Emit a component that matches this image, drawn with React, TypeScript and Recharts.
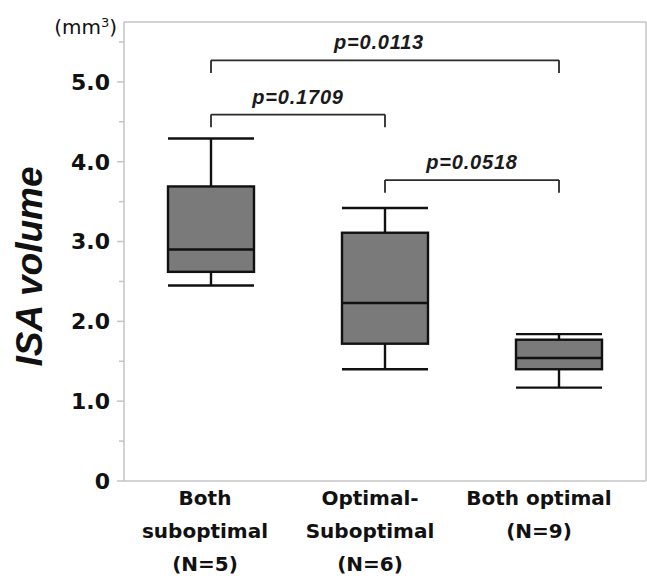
import React from 'react';
import { ComposedChart, Bar, XAxis, YAxis, ReferenceLine } from 'recharts';

// ---- data ----
const categories = ['Both suboptimal', 'Optimal-Suboptimal', 'Both optimal'];
const categoryLines = [
  ['Both', 'suboptimal', '(N=5)'],
  ['Optimal-', 'Suboptimal', '(N=6)'],
  ['Both optimal', '(N=9)'],
];
const minValues = [2.45, 1.40, 1.17];
const q1Values = [2.62, 1.72, 1.40];
const medianValues = [2.90, 2.23, 1.54];
const q3Values = [3.69, 3.11, 1.77];
const maxValues = [4.29, 3.42, 1.84];

const yTicks = [0, 0.5, 1, 1.5, 2, 2.5, 3, 3.5, 4, 4.5, 5, 5.5];
const yMax = 5.75;

const comparisons = [
  { from: 0, to: 2, top: 5.27, bottom: 5.11, label: 'p=0.0113' },
  { from: 0, to: 1, top: 4.59, bottom: 4.43, label: 'p=0.1709' },
  { from: 1, to: 2, top: 3.77, bottom: 3.61, label: 'p=0.0518' },
];

const data = categories.map((name, i) => ({
  name,
  range: [minValues[i], maxValues[i]],
  min: minValues[i],
  q1: q1Values[i],
  median: medianValues[i],
  q3: q3Values[i],
  max: maxValues[i],
}));

// ---- styles ----
const FRAME = '#c4c4c4';
const INK = '#111111';
const BRACKET = '#2a2a2a';
const labelShift = [-6, -15, -20];
const pLabelShift = [-6, 0, 0];

const BoxShape = (props: any) => {
  const { x, y, width, height, payload } = props;
  if (!payload) return null;
  const { min, q1, median, q3, max } = payload;
  const top = Math.min(y, y + height);
  const h = Math.abs(height);
  const k = h / (max - min);
  const py = (v: number) => top + (max - v) * k;
  const cx = x + width / 2;
  const sw = 2.4;
  return (
    <g>
      <line x1={cx} x2={cx} y1={py(max)} y2={py(q3)} stroke={INK} strokeWidth={sw} />
      <line x1={cx} x2={cx} y1={py(q1)} y2={py(min)} stroke={INK} strokeWidth={sw} />
      <line x1={x} x2={x + width} y1={py(max)} y2={py(max)} stroke={INK} strokeWidth={sw} />
      <line x1={x} x2={x + width} y1={py(min)} y2={py(min)} stroke={INK} strokeWidth={sw} />
      <rect x={x} y={py(q3)} width={width} height={py(q1) - py(q3)} fill="#7a7a7a" stroke={INK} strokeWidth={sw} />
      <line x1={x} x2={x + width} y1={py(median)} y2={py(median)} stroke={INK} strokeWidth={sw} />
    </g>
  );
};

const YTick = (props: any) => {
  const { x, y, payload } = props;
  const v = payload.value;
  const major = Math.abs(v - Math.round(v)) < 1e-9;
  const label = major ? (v === 0 ? '0' : v.toFixed(1)) : '';
  return (
    <g>
      <line x1={x - (major ? 7 : 5)} x2={x} y1={y} y2={y} stroke={FRAME} strokeWidth={1.5} />
      {label && (
        <text
          x={x - 14}
          y={y}
          dy="0.36em"
          textAnchor="end"
          fontFamily="DejaVu Sans"
          fontWeight="bold"
          fontSize={22}
          fill={INK}
        >
          {label}
        </text>
      )}
    </g>
  );
};

const XTick = (props: any) => {
  const { x, y, payload } = props;
  const idx = categories.indexOf(payload.value);
  const lines = categoryLines[idx] || [payload.value];
  return (
    <g>
      {lines.map((t, i) => (
        <text
          key={i}
          x={x + (labelShift[idx] || 0)}
          y={y + 24 + i * 33}
          textAnchor="middle"
          fontFamily="DejaVu Sans"
          fontWeight="bold"
          fontSize={20}
          fill={INK}
        >
          {t}
        </text>
      ))}
    </g>
  );
};

const YLabel = (props: any) => {
  const vb = props.viewBox || { x: 0, y: 22, width: 124, height: 459 };
  const cx = vb.x + 42;
  const cy = vb.y + vb.height / 2 + 15;
  return (
    <g>
      <text
        x={cx}
        y={cy}
        transform={`rotate(-90, ${cx}, ${cy})`}
        textAnchor="middle"
        fontFamily="Liberation Sans"
        fontWeight="bold"
        fontStyle="italic"
        fontSize={37}
        fill={INK}
      >
        ISA volume
      </text>
      <text
        x={vb.x + vb.width - 7}
        y={vb.y + 5}
        dy="0.35em"
        textAnchor="end"
        fontFamily="DejaVu Sans"
        fontSize={20}
        fill={INK}
      >
        (mm<tspan dy="-7" fontSize={13}>3</tspan>
        <tspan dy="7">)</tspan>
      </text>
    </g>
  );
};

const makePLabel = (text: string, dx: number) => (props: any) => {
  const vb = props.viewBox;
  if (!vb) return null;
  const cx = vb.x + vb.width / 2 + dx;
  const y = Math.min(vb.y, vb.y + (vb.height || 0)) - 11;
  return (
    <text
      x={cx}
      y={y}
      textAnchor="middle"
      fontFamily="Liberation Sans"
      fontWeight="bold"
      fontStyle="italic"
      fontSize={20}
      letterSpacing={0.8}
      fill="#1a1a1a"
    >
      {text}
    </text>
  );
};

export default function App() {
  return (
    <div style={{ position: 'absolute', left: 0, top: 0, background: '#fff' }}>
      <ComposedChart
        width={647}
        height={581}
        data={data}
        margin={{ top: 22, right: 1, bottom: 0, left: 0 }}
      >
        <XAxis
          dataKey="name"
          height={100}
          tickLine={false}
          tickSize={0}
          tickMargin={0}
          axisLine={{ stroke: FRAME, strokeWidth: 1.5 }}
          tick={<XTick />}
          interval={0}
        />
        <YAxis
          type="number"
          domain={[0, yMax]}
          ticks={yTicks}
          interval={0}
          width={124}
          tickLine={false}
          tickSize={0}
          tickMargin={0}
          axisLine={{ stroke: FRAME, strokeWidth: 1.5 }}
          tick={<YTick />}
          allowDataOverflow
          label={{ content: <YLabel /> } as any}
        />
        <ReferenceLine y={yMax} stroke={FRAME} strokeWidth={1.5} ifOverflow="visible" />
        <ReferenceLine
          x={categories[categories.length - 1]}
          position="end"
          stroke={FRAME}
          strokeWidth={1.5}
          ifOverflow="visible"
        />
        <Bar dataKey="range" barSize={86} shape={<BoxShape />} isAnimationActive={false} />
        {comparisons.map((c, i) => (
          <ReferenceLine
            key={`h${i}`}
            segment={[
              { x: categories[c.from], y: c.top },
              { x: categories[c.to], y: c.top },
            ]}
            stroke={BRACKET}
            strokeWidth={1.8}
            ifOverflow="visible"
            label={{ content: makePLabel(c.label, pLabelShift[i]) } as any}
          />
        ))}
        {comparisons.map((c, i) => (
          <ReferenceLine
            key={`l${i}`}
            segment={[
              { x: categories[c.from], y: c.top },
              { x: categories[c.from], y: c.bottom },
            ]}
            stroke={BRACKET}
            strokeWidth={1.8}
            ifOverflow="visible"
          />
        ))}
        {comparisons.map((c, i) => (
          <ReferenceLine
            key={`r${i}`}
            segment={[
              { x: categories[c.to], y: c.top },
              { x: categories[c.to], y: c.bottom },
            ]}
            stroke={BRACKET}
            strokeWidth={1.8}
            ifOverflow="visible"
          />
        ))}
      </ComposedChart>
    </div>
  );
}
